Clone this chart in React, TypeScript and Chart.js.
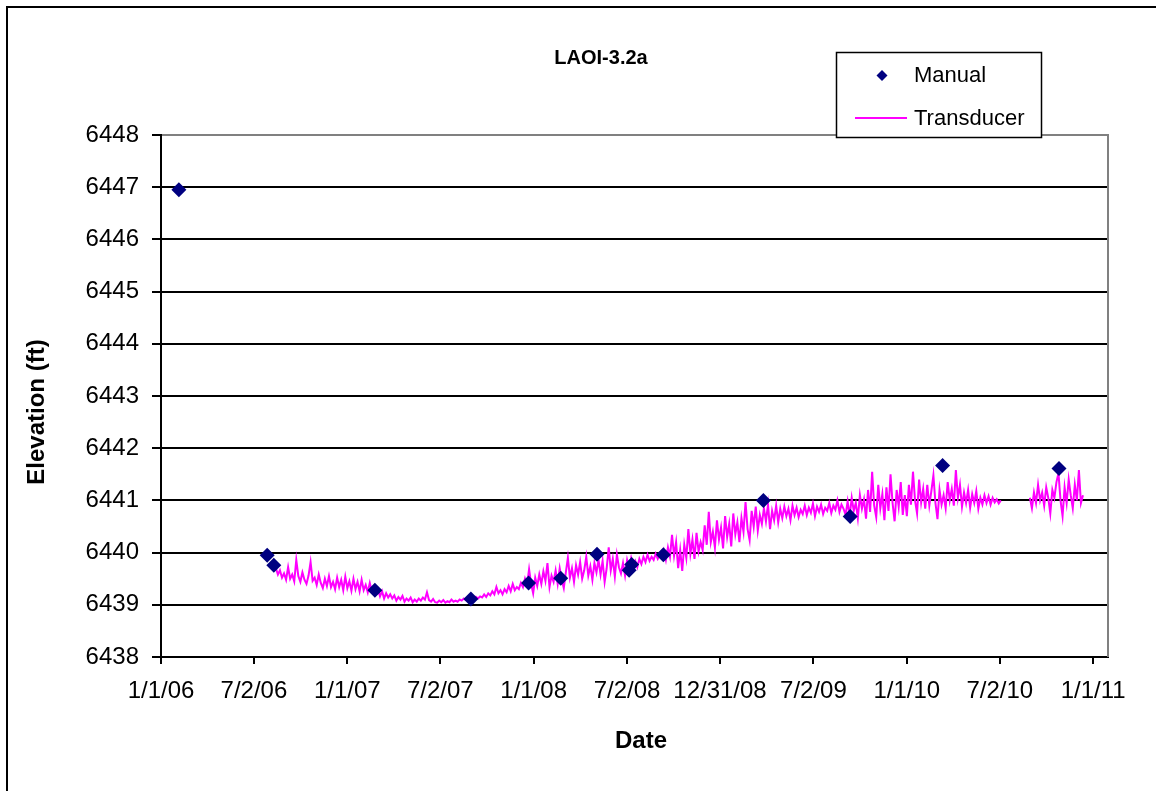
import React, { useEffect, useRef } from 'react';
import { Chart, registerables } from 'chart.js';

Chart.register(...registerables);

const FONT = "'Liberation Sans', Arial, sans-serif";

const chartTitle = 'LAOI-3.2a';
const xAxisTitle = 'Date';
const yAxisTitle = 'Elevation (ft)';
const manualLabel = 'Manual';
const transducerLabel = 'Transducer';

// x values are days since 1/1/06
const xMin = 0;
const xMax = 1855;
const yMin = 6438;
const yMax = 6448;
const xTickDays = [0, 182, 365, 547, 730, 913, 1095, 1278, 1461, 1643, 1826];
const xTickLabels = ['1/1/06', '7/2/06', '1/1/07', '7/2/07', '1/1/08', '7/2/08', '12/31/08', '7/2/09', '1/1/10', '7/2/10', '1/1/11'];

const manualDays = [35, 208, 221, 419, 607, 720, 783, 854, 917, 922, 984, 1180, 1350, 1531, 1759];
const manualElev = [6446.95, 6439.95, 6439.76, 6439.28, 6439.11, 6439.42, 6439.51, 6439.97, 6439.66, 6439.77, 6439.96, 6441.0, 6440.69, 6441.67, 6441.61];

// transducer record, first segment (every 4 days from day 221)
const transducerAStart = 221;
const transducerAStep = 4;
const transducerA = [
  6439.76, 6439.70, 6439.58, 6439.66, 6439.52, 6439.60, 6439.48, 6439.72, 6439.50, 6439.58,
  6439.45, 6439.86, 6439.55, 6439.44, 6439.62, 6439.48, 6439.40, 6439.56, 6439.82, 6439.46,
  6439.52, 6439.38, 6439.58, 6439.42, 6439.32, 6439.50, 6439.36, 6439.55, 6439.34, 6439.44,
  6439.30, 6439.52, 6439.34, 6439.48, 6439.28, 6439.54, 6439.32, 6439.45, 6439.27, 6439.50,
  6439.30, 6439.44, 6439.26, 6439.48, 6439.28, 6439.38, 6439.24, 6439.42, 6439.26, 6439.33,
  6439.22, 6439.30, 6439.16, 6439.26, 6439.12, 6439.22, 6439.14, 6439.20, 6439.12, 6439.18,
  6439.08, 6439.15, 6439.10, 6439.17, 6439.06, 6439.12, 6439.08, 6439.14, 6439.05, 6439.10,
  6439.06, 6439.12, 6439.08, 6439.14, 6439.10, 6439.24, 6439.09, 6439.06, 6439.11, 6439.05,
  6439.04, 6439.08, 6439.05, 6439.09, 6439.04, 6439.07, 6439.05, 6439.10, 6439.06, 6439.08,
  6439.06, 6439.10, 6439.08, 6439.12, 6439.09, 6439.11, 6439.08, 6439.13, 6439.10, 6439.15,
  6439.12, 6439.16, 6439.14, 6439.20, 6439.15, 6439.22, 6439.18, 6439.26, 6439.20, 6439.34,
  6439.22, 6439.28, 6439.20, 6439.30, 6439.24, 6439.36, 6439.26, 6439.40, 6439.28, 6439.34,
  6439.30, 6439.42, 6439.34, 6439.50, 6439.38, 6439.68, 6439.40, 6439.22, 6439.52, 6439.36,
  6439.58, 6439.40, 6439.64, 6439.46, 6439.80, 6439.34, 6439.56, 6439.44, 6439.66, 6439.40,
  6439.70, 6439.48, 6439.32, 6439.62, 6439.90, 6439.52, 6439.70, 6439.44, 6439.76, 6439.58,
  6439.82, 6439.50, 6439.66, 6439.92, 6439.56, 6439.74, 6439.48, 6439.80, 6439.62, 6439.86,
  6439.58, 6439.84, 6439.44, 6439.70, 6440.10, 6439.66, 6439.88, 6439.54, 6439.96, 6439.72,
  6439.60, 6439.80, 6439.56, 6439.86, 6439.70, 6439.90, 6439.76, 6439.84, 6439.72, 6439.88,
  6439.78, 6439.92, 6439.82, 6439.96, 6439.84, 6439.92, 6439.86, 6439.98, 6439.88, 6439.96,
  6439.90, 6440.04, 6439.86, 6440.10, 6439.92, 6440.34, 6439.94, 6440.20, 6439.70, 6440.05,
  6439.65, 6440.15, 6439.90, 6440.45, 6439.98, 6440.25, 6439.88, 6440.38, 6440.02, 6440.20,
  6440.05, 6440.52, 6440.15, 6440.78, 6440.20, 6440.40, 6440.10, 6440.62, 6440.25, 6440.48,
  6440.08, 6440.70, 6440.30, 6440.55, 6440.12, 6440.75, 6440.35, 6440.58, 6440.20, 6440.66,
  6440.40, 6440.97, 6440.45, 6440.24, 6440.80, 6440.50, 6440.88, 6440.42, 6440.72, 6440.55,
  6440.85, 6440.60, 6440.92, 6440.45, 6440.80, 6440.62, 6440.90, 6440.58, 6440.84, 6440.66,
  6440.88, 6440.70, 6440.84, 6440.62, 6440.90, 6440.72, 6440.86, 6440.68, 6440.82, 6440.74,
  6440.90, 6440.72, 6440.86, 6440.76, 6440.94, 6440.70, 6440.88, 6440.78, 6440.92, 6440.74,
  6440.86, 6440.80, 6440.95, 6440.76, 6440.90, 6440.82, 6441.00, 6440.78, 6440.92, 6440.84,
  6440.72, 6440.98, 6440.70, 6441.05, 6440.80, 6440.95, 6440.66, 6441.10, 6440.84, 6441.02,
  6440.65, 6441.20, 6440.78, 6441.55, 6440.90, 6440.68, 6441.30, 6440.85, 6441.12, 6440.62,
  6441.25, 6440.80, 6441.50, 6440.95, 6440.60, 6441.20, 6440.88, 6441.35, 6440.72, 6441.10,
  6440.70, 6441.30, 6440.92, 6441.55, 6441.00, 6440.75, 6441.40, 6440.96, 6441.22, 6440.84,
  6441.30, 6440.90, 6441.18, 6441.48, 6440.95, 6440.64, 6441.20, 6440.92, 6441.10, 6440.85,
  6441.35, 6441.00, 6441.22, 6440.90, 6441.58, 6441.05, 6441.30, 6440.88, 6441.15, 6440.95,
  6441.20, 6440.86, 6441.12, 6440.95, 6441.18, 6440.84, 6441.05, 6440.92, 6441.10, 6440.95,
  6441.08, 6440.92, 6441.05, 6440.96, 6441.02, 6440.94, 6441.00,
];

// gap in the record
const transducerGapDay = 1672;

// transducer record, second segment (every 4 days from day 1702)
const transducerBStart = 1702;
const transducerBStep = 4;
const transducerB = [
  6441.05, 6440.85, 6441.15, 6440.95, 6441.30, 6441.00, 6441.15, 6440.90, 6441.25, 6441.05,
  6440.75, 6441.20, 6441.05, 6441.35, 6441.52, 6441.00, 6440.70, 6441.25, 6440.95, 6441.40,
  6441.10, 6440.85, 6441.30, 6441.00, 6441.58, 6440.95, 6441.10,
];

const MANUAL_COLOR = '#000080';
const TRANSDUCER_COLOR = '#FF00FF';

const decorPlugin = {
  id: 'decor',
  beforeDraw(chart: any) {
    const ctx = chart.ctx;
    ctx.save();
    ctx.fillStyle = '#ffffff';
    ctx.fillRect(0, 0, chart.width, chart.height);
    ctx.strokeStyle = '#000000';
    ctx.lineWidth = 2;
    ctx.beginPath();
    ctx.moveTo(7, chart.height + 2);
    ctx.lineTo(7, 7);
    ctx.lineTo(chart.width + 2, 7);
    ctx.stroke();
    ctx.restore();
  },
  beforeDatasetsDraw(chart: any) {
    const { ctx, chartArea } = chart;
    ctx.save();
    ctx.strokeStyle = '#808080';
    ctx.lineWidth = 2;
    ctx.beginPath();
    ctx.moveTo(chartArea.left + 1, chartArea.top);
    ctx.lineTo(chartArea.right, chartArea.top);
    ctx.lineTo(chartArea.right, chartArea.bottom);
    ctx.stroke();
    ctx.restore();
  },
  afterDraw(chart: any) {
    const ctx = chart.ctx;
    ctx.save();
    // title
    ctx.fillStyle = '#000000';
    ctx.font = `bold 20px ${FONT}`;
    ctx.textAlign = 'center';
    ctx.textBaseline = 'middle';
    ctx.fillText(chartTitle, 601, 58);
    // axis titles
    ctx.font = `bold 24px ${FONT}`;
    ctx.fillText(xAxisTitle, 641, 741);
    ctx.save();
    ctx.translate(37, 412);
    ctx.rotate(-Math.PI / 2);
    ctx.fillText(yAxisTitle, 0, 0);
    ctx.restore();
    // legend box
    ctx.fillStyle = '#ffffff';
    ctx.fillRect(836, 52, 206, 86);
    ctx.strokeStyle = '#000000';
    ctx.lineWidth = 1.5;
    ctx.strokeRect(836.5, 52.5, 205, 85);
    // manual marker
    ctx.fillStyle = MANUAL_COLOR;
    ctx.beginPath();
    ctx.moveTo(882, 70);
    ctx.lineTo(887.5, 75.5);
    ctx.lineTo(882, 81);
    ctx.lineTo(876.5, 75.5);
    ctx.closePath();
    ctx.fill();
    // transducer line
    ctx.strokeStyle = TRANSDUCER_COLOR;
    ctx.lineWidth = 2;
    ctx.beginPath();
    ctx.moveTo(855, 118);
    ctx.lineTo(907, 118);
    ctx.stroke();
    ctx.fillStyle = '#000000';
    ctx.font = `22px ${FONT}`;
    ctx.textAlign = 'left';
    ctx.textBaseline = 'middle';
    ctx.fillText(manualLabel, 914, 76);
    ctx.fillText(transducerLabel, 914, 119);
    ctx.restore();
  },
};

export default function App() {
  const canvasRef = useRef<HTMLCanvasElement>(null);

  useEffect(() => {
    const manualPts = manualDays.map((d, i) => ({ x: d, y: manualElev[i] }));
    const transPts: { x: number; y: number | null }[] = [];
    transducerA.forEach((v, i) => transPts.push({ x: transducerAStart + i * transducerAStep, y: v }));
    transPts.push({ x: transducerGapDay, y: null });
    transducerB.forEach((v, i) => transPts.push({ x: transducerBStart + i * transducerBStep, y: v }));

    const chart = new Chart(canvasRef.current as HTMLCanvasElement, {
      type: 'scatter',
      data: {
        datasets: [
          {
            label: manualLabel,
            data: manualPts,
            showLine: false,
            pointStyle: 'rectRot',
            pointRadius: 7.5,
            pointHoverRadius: 7.5,
            backgroundColor: MANUAL_COLOR,
            borderColor: MANUAL_COLOR,
            borderWidth: 0,
          },
          {
            label: transducerLabel,
            data: transPts as any,
            showLine: true,
            spanGaps: false,
            pointRadius: 0,
            borderColor: TRANSDUCER_COLOR,
            borderWidth: 2,
            tension: 0,
          },
        ],
      },
      options: {
        responsive: false,
        animation: false,
        devicePixelRatio: 1,
        layout: { padding: { left: 0, right: 48, top: 135, bottom: 0 } },
        plugins: {
          legend: { display: false },
          title: { display: false },
          tooltip: { enabled: false },
        },
        scales: {
          x: {
            type: 'linear',
            min: xMin,
            max: xMax,
            afterBuildTicks: (scale: any) => {
              scale.ticks = xTickDays.map((v) => ({ value: v }));
            },
            afterFit: (scale: any) => {
              scale.height = 134;
            },
            ticks: {
              autoSkip: false,
              maxRotation: 0,
              minRotation: 0,
              padding: 13,
              color: '#000000',
              font: { family: FONT, size: 24 },
              callback: (value: any) => {
                const idx = xTickDays.indexOf(Number(value));
                return idx >= 0 ? xTickLabels[idx] : '';
              },
            },
            grid: {
              drawOnChartArea: false,
              drawTicks: true,
              tickLength: 7,
              color: '#000000',
              lineWidth: 2,
            },
            border: { display: true, color: '#000000', width: 2 },
            title: { display: false },
          },
          y: {
            type: 'linear',
            min: yMin,
            max: yMax,
            afterFit: (scale: any) => {
              scale.width = 161;
            },
            ticks: {
              stepSize: 1,
              padding: 13,
              color: '#000000',
              font: { family: FONT, size: 24 },
              callback: (value: any) => String(value),
            },
            grid: {
              color: '#000000',
              lineWidth: 2,
              tickLength: 9,
              drawTicks: true,
            },
            border: { display: true, color: '#000000', width: 2 },
            title: { display: false },
          },
        },
      },
      plugins: [decorPlugin],
    });
    return () => chart.destroy();
  }, []);

  return (
    <div style={{ position: 'fixed', left: 0, top: 0, width: 1156, height: 791, background: '#ffffff' }}>
      <canvas ref={canvasRef} width={1156} height={791} style={{ display: 'block' }} />
    </div>
  );
}
